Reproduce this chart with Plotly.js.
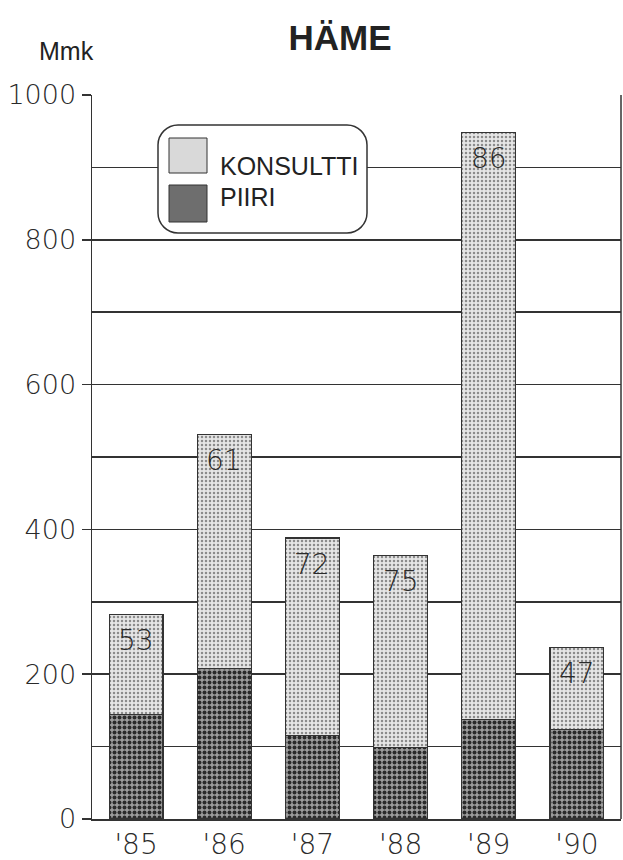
<!DOCTYPE html>
<html>
<head>
<meta charset="utf-8">
<script src="https://cdn.plot.ly/plotly-3.0.1.min.js"></script>
<style>html,body{margin:0;padding:0;background:#fff;}#chart{width:623px;height:860px;}</style>
</head>
<body>
<div id="chart"></div>
<script>
// ---- data ----
const years = ["'85", "'86", "'87", "'88", "'89", "'90"];
const piiri = [144, 208, 115, 99, 137, 124];
const konsultti = [139, 323, 273, 265, 811, 113];
const shareLabels = ["53", "61", "72", "75", "86", "47"];
const seriesNames = ["KONSULTTI", "PIIRI"];
const chartTitle = "HÄME";
const unitLabel = "Mmk";

// ---- layout geometry ----
const W = 623, H = 860;
const M = {l: 92, r: 2, t: 95, b: 41};
const PW = W - M.l - M.r, PH = H - M.t - M.b;
const px2x = p => (p - M.l) / PW;
const px2y = p => (H - M.b - p) / PH;

const lineCol = '#333333';
const txtCol = '#2a2a2a';
const lightFont = {family: 'DejaVu Sans, sans-serif', size: 27, color: txtCol, weight: 200};
const sansFont = 'Liberation Sans, Arial, sans-serif';

const totals = piiri.map((v, i) => v + konsultti[i]);

const traces = [
  {
    type: 'bar', name: seriesNames[1], x: years, y: piiri,
    width: 0.61,
    marker: {color: '#8a8a8a', line: {color: lineCol, width: 1.2},
      pattern: {shape: '.', bgcolor: '#9c9c9c', fgcolor: '#2a2a2a', size: 5, solidity: 0.5, fillmode: 'replace'}},
    showlegend: false, hoverinfo: 'skip'
  },
  {
    type: 'bar', name: seriesNames[0], x: years, y: konsultti,
    width: 0.61,
    marker: {color: '#d8d8d8', line: {color: lineCol, width: 1.2},
      pattern: {shape: '.', bgcolor: '#e6e6e6', fgcolor: '#8c8c8c', size: 4, solidity: 0.3, fillmode: 'replace'}},
    showlegend: false, hoverinfo: 'skip'
  }
];

const annotations = years.map((yr, i) => ({
  x: yr, y: totals[i], xref: 'x', yref: 'y', text: shareLabels[i],
  showarrow: false, yanchor: 'middle', xanchor: 'center', yshift: -26,
  font: {family: lightFont.family, size: 28, color: txtCol, weight: 200}
}));

annotations.push({
  xref: 'paper', yref: 'paper', x: px2x(66), y: px2y(51), text: unitLabel,
  showarrow: false, xanchor: 'center', yanchor: 'middle',
  font: {family: sansFont, size: 25, color: '#222'}
});
// legend texts
annotations.push({
  xref: 'paper', yref: 'paper', x: px2x(218), y: px2y(166), text: seriesNames[0],
  showarrow: false, xanchor: 'left', yanchor: 'middle',
  font: {family: sansFont, size: 25, color: '#222'}
});
annotations.push({
  xref: 'paper', yref: 'paper', x: px2x(218), y: px2y(197), text: seriesNames[1],
  showarrow: false, xanchor: 'left', yanchor: 'middle',
  font: {family: sansFont, size: 25, color: '#222'}
});

// rounded legend box path in paper coords
function roundRect(x0, y0, x1, y1, r) {
  const X = px2x, Y = px2y;
  const k = 0.55 * r;
  return 'M' + X(x0 + r) + ',' + Y(y0) +
    ' L' + X(x1 - r) + ',' + Y(y0) +
    ' C' + X(x1 - r + k) + ',' + Y(y0) + ' ' + X(x1) + ',' + Y(y0 + r - k) + ' ' + X(x1) + ',' + Y(y0 + r) +
    ' L' + X(x1) + ',' + Y(y1 - r) +
    ' C' + X(x1) + ',' + Y(y1 - r + k) + ' ' + X(x1 - r + k) + ',' + Y(y1) + ' ' + X(x1 - r) + ',' + Y(y1) +
    ' L' + X(x0 + r) + ',' + Y(y1) +
    ' C' + X(x0 + r - k) + ',' + Y(y1) + ' ' + X(x0) + ',' + Y(y1 - r + k) + ' ' + X(x0) + ',' + Y(y1 - r) +
    ' L' + X(x0) + ',' + Y(y0 + r) +
    ' C' + X(x0) + ',' + Y(y0 + r - k) + ' ' + X(x0 + r - k) + ',' + Y(y0) + ' ' + X(x0 + r) + ',' + Y(y0) + ' Z';
}

const shapes = [
  {type: 'path', xref: 'paper', yref: 'paper', path: roundRect(158, 125, 367, 233, 20),
   fillcolor: '#ffffff', line: {color: lineCol, width: 1.5}, layer: 'above'},
  {type: 'rect', xref: 'paper', yref: 'paper', x0: px2x(169), x1: px2x(207), y0: px2y(173), y1: px2y(138),
   fillcolor: '#d9d9d9', line: {color: lineCol, width: 1}, layer: 'above'},
  {type: 'rect', xref: 'paper', yref: 'paper', x0: px2x(169), x1: px2x(207), y0: px2y(222), y1: px2y(185),
   fillcolor: '#6e6e6e', line: {color: lineCol, width: 1}, layer: 'above'},
  // right frame line
  {type: 'line', xref: 'paper', yref: 'paper', x0: 1, x1: 1, y0: 0, y1: 1,
   line: {color: lineCol, width: 1.5}, layer: 'below'}
];

const layout = {
  width: W, height: H,
  margin: M,
  paper_bgcolor: '#ffffff', plot_bgcolor: '#ffffff',
  barmode: 'stack',
  showlegend: false,
  title: {text: '<b>' + chartTitle + '</b>', x: 340 / W, xref: 'container', xanchor: 'center',
          y: 1 - 38 / H, yref: 'container', yanchor: 'middle',
          font: {family: sansFont, size: 35, color: '#222'}},
  xaxis: {
    type: 'category', range: [-0.5, 5.5],
    showline: true, linecolor: lineCol, linewidth: 1.5,
    ticks: '', showgrid: false,
    tickfont: {family: lightFont.family, size: 28, color: txtCol, weight: 200},
    fixedrange: true
  },
  yaxis: {
    range: [0, 1000], dtick: 200, tick0: 0,
    showline: true, linecolor: lineCol, linewidth: 1.5,
    ticks: 'outside', ticklen: 9, tickcolor: lineCol, tickwidth: 1.5,
    showgrid: true, gridcolor: lineCol, gridwidth: 1.5,
    minor: {dtick: 100, showgrid: true, gridcolor: lineCol, gridwidth: 1.5, ticks: ''},
    zeroline: false,
    tickfont: lightFont,
    fixedrange: true
  },
  annotations: annotations,
  shapes: shapes
};

Plotly.newPlot('chart', traces, layout, {displayModeBar: false, staticPlot: true});
</script>
</body>
</html>
